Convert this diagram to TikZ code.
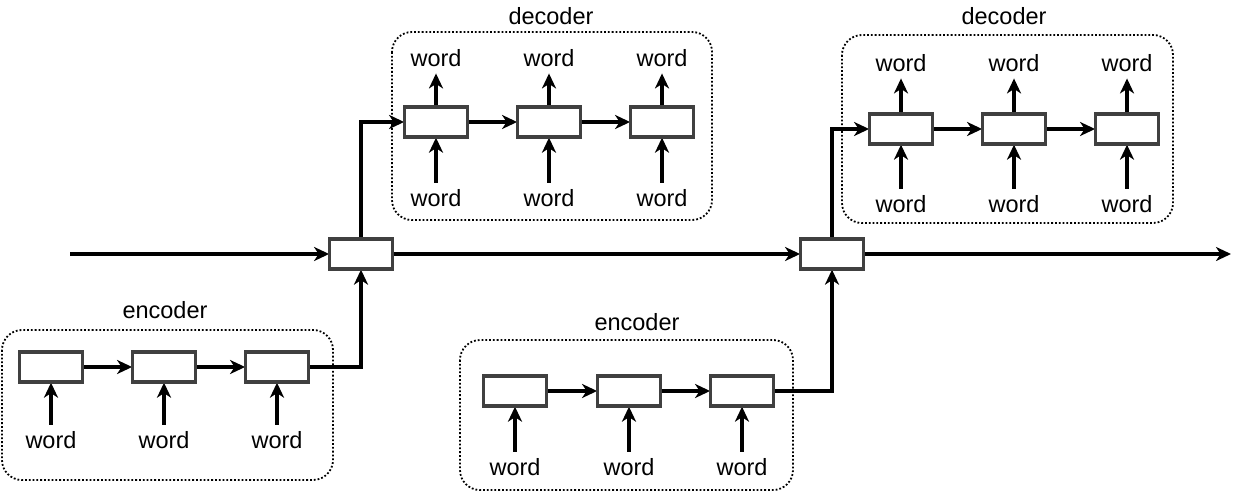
\documentclass[tikz,border=0pt]{standalone}
\usepackage{fontspec}
\setmainfont{Liberation Sans}
\usetikzlibrary{arrows.meta}
\begin{document}
\begin{tikzpicture}[x=1pt,y=-1pt,
  font=\fontsize{23.5}{28}\selectfont,
  cell/.style={draw=black!75, line width=2.3pt, fill=white, minimum width=61.5pt, minimum height=29pt, inner sep=0pt},
  wordlbl/.style={inner sep=6pt, anchor=base},
  grp/.style={draw, dotted, line width=1.8pt, rounded corners=20pt},
  conn/.style={line width=3.4pt, -{Stealth[length=15pt,width=14pt,inset=4.5pt]}},
  ttl/.style={anchor=base, inner sep=0pt}]
\useasboundingbox (0,0) rectangle (1241,492);

% groups
\draw[grp] (2,330) rectangle (333,480);
\draw[grp] (392,32) rectangle (712,220);
\draw[grp] (460,340) rectangle (793,490);
\draw[grp] (842,35) rectangle (1173,223);
\node[ttl] (te1) at (165,318) {encoder};
\node[ttl] (td1) at (551,25) {decoder};
\node[ttl] (te2) at (637,330) {encoder};
\node[ttl] (td2) at (1004,25) {decoder};

% mixers and main line
\coordinate (in) at (70,254);
\coordinate (out) at (1231,254);
\node[cell] (m1) at (361,254) {};
\node[cell] (m2) at (832,254) {};

% encoder 1
\foreach \n/\x in {a/51,b/164,c/277} {
  \node[cell] (e1\n) at (\x,367) {};
  \node[wordlbl] (e1w\n) at (\x,448) {word};
  \draw[conn] (e1w\n.north) -- (e1\n.south);
}
% encoder 2
\foreach \n/\x in {a/515,b/629,c/742} {
  \node[cell] (e2\n) at (\x,391) {};
  \node[wordlbl] (e2w\n) at (\x,475) {word};
  \draw[conn] (e2w\n.north) -- (e2\n.south);
}
% decoder 1
\foreach \n/\x in {a/436,b/549,c/662} {
  \node[cell] (d1\n) at (\x,122) {};
  \node[wordlbl] (d1u\n) at (\x,67) {word};
  \node[wordlbl] (d1l\n) at (\x,206) {word};
  \draw[conn] (d1l\n.north) -- (d1\n.south);
  \draw[conn] (d1\n.north) -- (d1u\n.south);
}
% decoder 2
\foreach \n/\x in {a/901,b/1014,c/1127} {
  \node[cell] (d2\n) at (\x,129) {};
  \node[wordlbl] (d2u\n) at (\x,72) {word};
  \node[wordlbl] (d2l\n) at (\x,212) {word};
  \draw[conn] (d2l\n.north) -- (d2\n.south);
  \draw[conn] (d2\n.north) -- (d2u\n.south);
}

% chains
\draw[conn] (e1a.east) -- (e1b.west);
\draw[conn] (e1b.east) -- (e1c.west);
\draw[conn] (e2a.east) -- (e2b.west);
\draw[conn] (e2b.east) -- (e2c.west);
\draw[conn] (d1a.east) -- (d1b.west);
\draw[conn] (d1b.east) -- (d1c.west);
\draw[conn] (d2a.east) -- (d2b.west);
\draw[conn] (d2b.east) -- (d2c.west);

% main flow
\draw[conn] (in) -- (m1.west);
\draw[conn] (m1.east) -- (m2.west);
\draw[conn] (m2.east) -- (out);
\draw[conn] (e1c.east) -| (m1.south);
\draw[conn] (e2c.east) -| (m2.south);
\draw[conn] (m1.north) |- (d1a.west);
\draw[conn] (m2.north) |- (d2a.west);

% redraw cell borders on top
\foreach \c in {e1a,e1b,e1c,e2a,e2b,e2c,d1a,d1b,d1c,d2a,d2b,d2c,m1,m2} {
  \draw[draw=black!75, line width=2.3pt] (\c.south west) rectangle (\c.north east);
}
\end{tikzpicture}
\end{document}
